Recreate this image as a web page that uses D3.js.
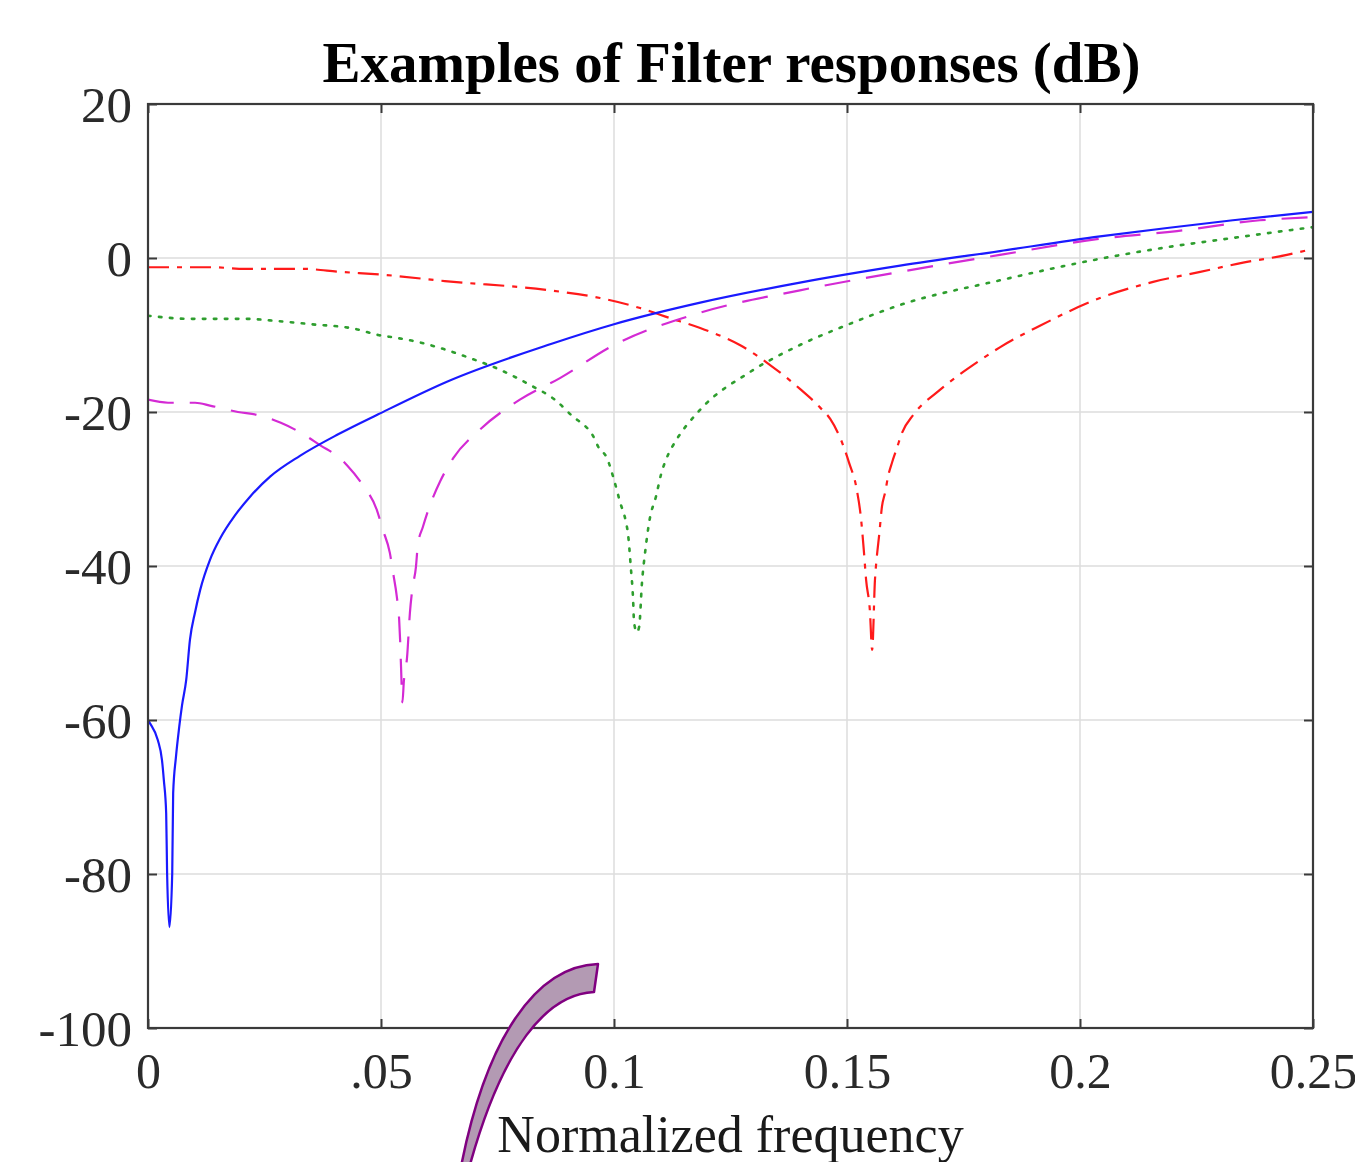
<!DOCTYPE html>
<html>
<head>
<meta charset="utf-8">
<script src="https://cdn.jsdelivr.net/npm/d3@7"></script>
<style>
html,body{margin:0;padding:0;background:#fff;}
svg{display:block;}
</style>
</head>
<body>
<svg id="chart" width="1355" height="1162"></svg>
<script>
// ---- data (normalized frequency, dB) ----
const blueF = [0,0.0004,0.0021,0.0030,0.0034,0.0039,0.0041,0.0046,0.0052,0.0054,0.0060,0.0067,0.0073,0.0082,0.0090,0.0101,0.0112,0.0133,0.0155,0.0187,0.0219,0.0262,0.0326,0.0408,0.0494,0.0644,0.0863,0.1000,0.1185,0.1399,0.1614,0.1828,0.2043,0.2187,0.2328,0.2500];
const blueDB = [-60.0,-60.4,-62.6,-65.2,-67.8,-72.1,-79.9,-86.9,-79.9,-69.5,-64.8,-60.9,-58.1,-54.8,-49.6,-46.0,-43.1,-39.2,-36.4,-33.4,-31.0,-28.4,-25.7,-22.9,-20.3,-16.0,-11.2,-8.6,-5.8,-3.2,-1.0,0.9,2.8,3.9,4.9,6.0];

const magentaF = [0,0.0043,0.0101,0.0135,0.0193,0.0236,0.0285,0.0328,0.0369,0.0412,0.0427,0.0461,0.0491,0.0504,0.0519,0.0526,0.0534,0.0539,0.0541,0.0543,0.0546,0.0549,0.0556,0.0562,0.0567,0.0575,0.0579,0.0590,0.0601,0.0627,0.0655,0.0712,0.0798,0.0884,0.1000,0.1185,0.1399,0.1614,0.1828,0.2043,0.2208,0.2386,0.2500];
const magentaDB = [-18.4,-18.8,-18.8,-19.2,-20.0,-20.4,-21.4,-22.7,-24.3,-26.0,-26.9,-29.5,-32.7,-35.3,-38.3,-40.9,-44.0,-47.0,-49.6,-53.1,-57.7,-55.0,-51.8,-46.1,-43.1,-40.1,-37.3,-34.9,-32.8,-29.0,-26.0,-22.3,-18.4,-15.6,-11.3,-7.1,-4.2,-1.8,0.4,2.5,3.5,4.9,5.3];

const greenF = [0,0.0092,0.0208,0.0279,0.0350,0.0444,0.0494,0.0536,0.0586,0.0633,0.0691,0.0755,0.0820,0.0873,0.0916,0.0936,0.0955,0.0966,0.0985,0.1000,0.1013,0.1026,0.1030,0.1036,0.1041,0.1043,0.1049,0.1054,0.1060,0.1067,0.1077,0.1090,0.1101,0.1118,0.1131,0.1185,0.1292,0.1399,0.1500,0.1614,0.1828,0.2043,0.2187,0.2328,0.2487,0.2500];
const greenDB = [-7.5,-7.9,-7.9,-8.2,-8.6,-9.2,-10.0,-10.4,-11.0,-11.8,-13.0,-14.5,-16.5,-18.4,-20.8,-21.7,-23.1,-24.5,-26.0,-28.8,-31.7,-34.4,-35.8,-40.1,-44.4,-47.3,-48.6,-47.9,-42.2,-38.1,-33.8,-31.0,-28.1,-25.3,-23.9,-19.7,-14.8,-11.3,-8.7,-6.1,-2.9,-0.1,1.4,2.6,3.9,4.0];

const redF = [0,0.0135,0.0208,0.0328,0.0414,0.0509,0.0637,0.0863,0.0970,0.1056,0.1120,0.1185,0.1270,0.1335,0.1399,0.1442,0.1464,0.1487,0.1504,0.1521,0.1530,0.1536,0.1541,0.1549,0.1554,0.1560,0.1564,0.1569,0.1575,0.1582,0.1588,0.1597,0.1607,0.1618,0.1642,0.1700,0.1785,0.1828,0.1914,0.2043,0.2157,0.2258,0.2350,0.2444,0.2500];
const redDB = [-1.2,-1.2,-1.4,-1.4,-1.8,-2.2,-3.0,-4.2,-5.2,-6.5,-7.8,-9.1,-11.3,-13.9,-17.0,-19.4,-20.9,-23.6,-26.5,-30.1,-33.8,-37.9,-41.8,-45.7,-50.9,-41.8,-38.8,-36.0,-32.3,-30.4,-28.4,-26.5,-24.7,-22.7,-20.4,-17.1,-13.3,-11.6,-8.8,-5.2,-3.1,-1.8,-0.6,0.4,1.2];

const xTicks = [0, 0.05, 0.1, 0.15, 0.2, 0.25];
const xTickLabels = ["0", ".05", "0.1", "0.15", "0.2", "0.25"];
const yTicks = [20, 0, -20, -40, -60, -80, -100];
const yTickLabels = ["20", "0", "-20", "-40", "-60", "-80", "-100"];

const titleText = "Examples of Filter responses (dB)";
const xLabelText = "Normalized frequency";

// ---- layout ----
const svg = d3.select("#chart");
const L = 148, T = 104, R = 1313, B = 1028;
const x = d3.scaleLinear().domain([0, 0.25]).range([L, R]);
const y = d3.scaleLinear().domain([-100, 20]).range([B, T]);
const font = "'Liberation Serif','Times New Roman',serif";
const axisColor = "#3a3a3a";

svg.append("rect").attr("width", 1355).attr("height", 1162).attr("fill", "#fff");

// grid
const grid = svg.append("g");
grid.selectAll(".gx").data(xTicks.slice(1, -1)).join("line")
  .attr("x1", d => x(d)).attr("x2", d => x(d)).attr("y1", T).attr("y2", B)
  .attr("stroke", "#dcdcdc").attr("stroke-width", 1.5);
grid.selectAll(".gy").data(yTicks.slice(1, -1)).join("line")
  .attr("y1", d => y(d)).attr("y2", d => y(d)).attr("x1", L).attr("x2", R)
  .attr("stroke", "#dcdcdc").attr("stroke-width", 1.5);

// series
svg.append("clipPath").attr("id", "clip").append("rect")
  .attr("x", L).attr("y", T).attr("width", R - L).attr("height", B - T);
const line = d3.line().x(d => x(d[0])).y(d => y(d[1])).curve(d3.curveMonotoneX);
const series = [
  {f: redF, v: redDB, color: "#ff1a1a", dash: "21,8,5,8", w: 2.2, cap: "butt"},
  {f: greenF, v: greenDB, color: "#2e9e2e", dash: "2.5,8.5", w: 2.6, cap: "round"},
  {f: magentaF, v: magentaDB, color: "#d42ad4", dash: "26,16", w: 2.2, cap: "butt"},
  {f: blueF, v: blueDB, color: "#1a1aff", dash: null, w: 2.2, cap: "butt"}
];
const lines = svg.append("g").attr("clip-path", "url(#clip)");
series.forEach(s => {
  lines.append("path")
    .datum(s.f.map((f, i) => [f, s.v[i]]))
    .attr("d", line)
    .attr("fill", "none")
    .attr("stroke", s.color)
    .attr("stroke-width", s.w)
    .attr("stroke-dasharray", s.dash)
    .attr("stroke-linecap", s.cap);
});

// axes (ticks inward on all sides)
const tk = 9;
const axB = svg.append("g").attr("transform", `translate(0,${B})`)
  .call(d3.axisBottom(x).tickValues(xTicks).tickSize(-tk).tickPadding(0).tickFormat((d, i) => xTickLabels[i]));
const axT = svg.append("g").attr("transform", `translate(0,${T})`)
  .call(d3.axisTop(x).tickValues(xTicks).tickSize(-tk).tickFormat(""));
const axLf = svg.append("g").attr("transform", `translate(${L},0)`)
  .call(d3.axisLeft(y).tickValues(yTicks).tickSize(-tk).tickPadding(0).tickFormat((d, i) => yTickLabels[i]));
const axRt = svg.append("g").attr("transform", `translate(${R},0)`)
  .call(d3.axisRight(y).tickValues(yTicks).tickSize(-tk).tickFormat(""));
[axB, axT, axLf, axRt].forEach(a => {
  a.select(".domain").remove();
  a.selectAll(".tick line").attr("stroke", axisColor).attr("stroke-width", 2);
});
axB.selectAll(".tick text")
  .attr("y", 60).attr("dy", 0)
  .attr("font-family", font).attr("font-size", 50).attr("fill", "#2a2a2a");
axLf.selectAll(".tick text")
  .attr("x", -16).attr("dy", "0.34em")
  .attr("font-family", font).attr("font-size", 51).attr("fill", "#2a2a2a");

// box
svg.append("rect").attr("x", L).attr("y", T).attr("width", R - L).attr("height", B - T)
  .attr("fill", "none").attr("stroke", axisColor).attr("stroke-width", 2.2);

// title & label
svg.append("text").attr("x", (L + R) / 2 + 1).attr("y", 82)
  .attr("text-anchor", "middle").attr("font-family", font)
  .attr("font-weight", "bold").attr("font-size", 57).attr("fill", "#000")
  .text(titleText);
svg.append("text").attr("x", (L + R) / 2).attr("y", 1152)
  .attr("text-anchor", "middle").attr("font-family", font)
  .attr("font-size", 52).attr("fill", "#1a1a1a")
  .text(xLabelText);

// purple curved annotation arrow tail
svg.append("path")
  .attr("d", "M598,964 L594,992 C548,994 502,1045 468,1172 L460,1172 C485,1040 535,966 598,964 Z")
  .attr("fill", "#b39ab3").attr("stroke", "#800080").attr("stroke-width", 2.5)
  .attr("stroke-linejoin", "round");
</script>
</body>
</html>
